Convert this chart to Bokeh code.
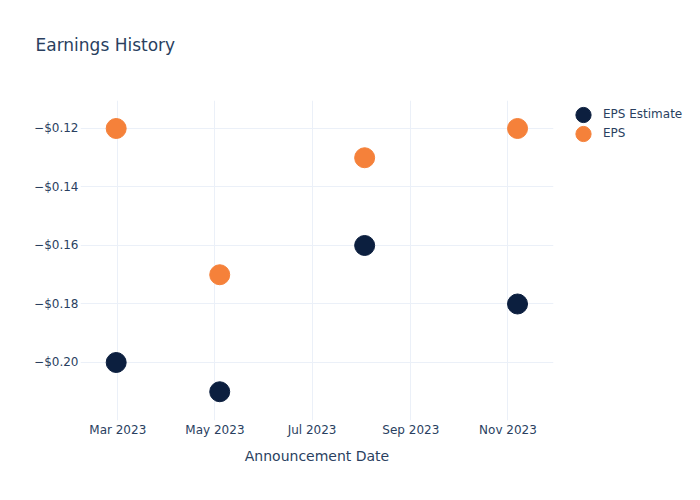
import calendar
from datetime import datetime
from bokeh.plotting import figure
from bokeh.models import (Range1d, FixedTicker, CustomJSTickFormatter, DatetimeTickFormatter,
                          Legend, LegendItem, ColumnDataSource)
from bokeh.embed import file_html
from bokeh.resources import INLINE

dates = ["2023-02-28", "2023-05-04", "2023-08-03", "2023-11-07"]
eps_estimate = [-0.20, -0.21, -0.16, -0.18]
eps_actual = [-0.12, -0.17, -0.13, -0.12]
y_ticks = [-0.12, -0.14, -0.16, -0.18, -0.20]
x_tick_dates = ["2023-03-01", "2023-05-01", "2023-07-01", "2023-09-01", "2023-11-01"]

FONT = "DejaVu Sans"
TXT = "#2a3f5f"
GRID = "#ebf0f8"
NAVY = "#0c1f3f"
ORANGE = "#f5813a"

def ms(s, hours=0):
    d = datetime.strptime(s, "%Y-%m-%d")
    return (calendar.timegm(d.timetuple()) + hours * 3600) * 1000.0

xs = [ms(d) for d in dates]

p = figure(frame_width=473, frame_height=320, output_backend="svg", toolbar_location=None,
           x_axis_type="datetime",
           x_range=Range1d(ms("2023-02-05", 14), ms("2023-11-29", 14)),
           y_range=Range1d(-0.21983, -0.11043),
           min_border_left=80, min_border_right=147, min_border_top=100, min_border_bottom=80)
p.outline_line_color = None
p.background_fill_color = "white"
p.border_fill_color = "white"

p.title.text = "Earnings History\n"
p.title.text_font = FONT
p.title.text_font_size = "17px"
p.title.text_font_style = "normal"
p.title.text_color = TXT
p.title.align = "left"
p.title.vertical_align = "top"
p.title.offset = -45
p.title.standoff = 48

src_e = ColumnDataSource(dict(x=xs, y=eps_estimate))
src_a = ColumnDataSource(dict(x=xs, y=eps_actual))
r_e = p.ellipse("x", "y", source=src_e, width=20, height=20,
                width_units="screen", height_units="screen",
                fill_color=NAVY, line_color=NAVY)
r_a = p.ellipse("x", "y", source=src_a, width=20, height=20,
                width_units="screen", height_units="screen",
                fill_color=ORANGE, line_color=ORANGE)

# axes
p.xaxis.ticker = FixedTicker(ticks=[ms(d) for d in x_tick_dates])
p.xaxis.formatter = DatetimeTickFormatter(days="%b %Y", months="%b %Y", years="%b %Y")
p.yaxis.ticker = FixedTicker(ticks=y_ticks)
p.yaxis.formatter = CustomJSTickFormatter(code="""
    const s = '$' + Math.abs(tick).toFixed(2);
    return tick < 0 ? '\\u2212' + s : s;
""")
for ax in (p.xaxis[0], p.yaxis[0]):
    ax.axis_line_color = None
    ax.major_tick_line_color = None
    ax.minor_tick_line_color = None
    ax.major_tick_out = 0
    ax.major_tick_in = 0
    ax.minor_tick_out = 0
    ax.minor_tick_in = 0
    ax.major_label_text_color = TXT
    ax.major_label_text_font = FONT
    ax.major_label_text_font_size = "12px"
p.xaxis.major_label_standoff = 2
p.yaxis.major_label_standoff = 2
p.xaxis.axis_label = "Announcement Date"
p.xaxis.axis_label_text_font = FONT
p.xaxis.axis_label_text_font_size = "14px"
p.xaxis.axis_label_text_font_style = "normal"
p.xaxis.axis_label_text_color = TXT
p.xaxis.axis_label_standoff = 8

p.xgrid.grid_line_color = GRID
p.ygrid.grid_line_color = GRID
p.xgrid.ticker = p.xaxis.ticker
p.ygrid.ticker = p.yaxis.ticker

legend = Legend(items=[LegendItem(label="EPS Estimate", renderers=[r_e]),
                       LegendItem(label="EPS", renderers=[r_a])],
                location=(20, 277.5), orientation="vertical")
legend.label_text_font = FONT
legend.label_text_font_size = "12px"
legend.label_text_color = TXT
legend.border_line_color = None
legend.background_fill_alpha = 0
legend.glyph_height = 19
legend.glyph_width = 20
legend.label_height = 19
legend.spacing = 0
legend.label_standoff = 10
legend.padding = 0
legend.margin = 0
p.add_layout(legend, "right")

open("out.html", "w").write(file_html(p, INLINE))
